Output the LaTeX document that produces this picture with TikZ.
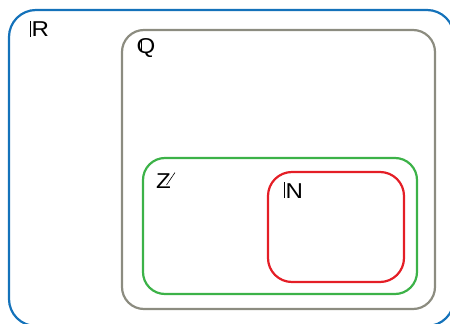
\documentclass[tikz,border=0pt]{standalone}
\usepackage{fontspec}
\setmainfont{Liberation Sans}
\usetikzlibrary{calc}
\definecolor{setblue}{RGB}{20,114,186}
\definecolor{setgray}{RGB}{140,140,128}
\definecolor{setgreen}{RGB}{60,178,72}
\definecolor{setred}{RGB}{228,30,38}
\newcommand{\dsR}{\rule{0.6pt}{15.6pt}\kern1.2pt R}
\newcommand{\dsN}{\rule{0.6pt}{15.6pt}\kern1.2pt N}
\newcommand{\dsQ}{\rlap{\kern3.4pt\rule[2.6pt]{0.6pt}{10.5pt}}Q}
\begin{document}
\begin{tikzpicture}[x=1pt,y=-1pt,
  setbox/.style={line width=2.2pt, rounded corners=#1},
  setlabel/.style={anchor=base west, inner sep=0pt, xscale=1.12, font=\fontsize{21.5}{24}\selectfont, text=black}]
\useasboundingbox (0,0) rectangle (450,324);
\draw[setbox=27, setblue] (9,10) rectangle (454,326);
\draw[setbox=22, setgray] (122,30) rectangle (435,309);
\draw[setbox=22, setgreen] (143,158) rectangle (417,294);
\draw[setbox=24, setred] (268,172) rectangle (404,282);
\node[setlabel] (lr) at (29.5,36.5) {\dsR};
\node[setlabel] (lq) at (136.5,53.5) {\dsQ};
\node[setlabel] (lz) at (156,188.5) {Z};
\node[setlabel] (ln) at (283.5,198) {\dsN};
\coordinate (zt) at (175,172.5);
\coordinate (zb) at (166.5,185);
\draw[line width=0.6pt, black] (zt) -- (zb);
\end{tikzpicture}
\end{document}
